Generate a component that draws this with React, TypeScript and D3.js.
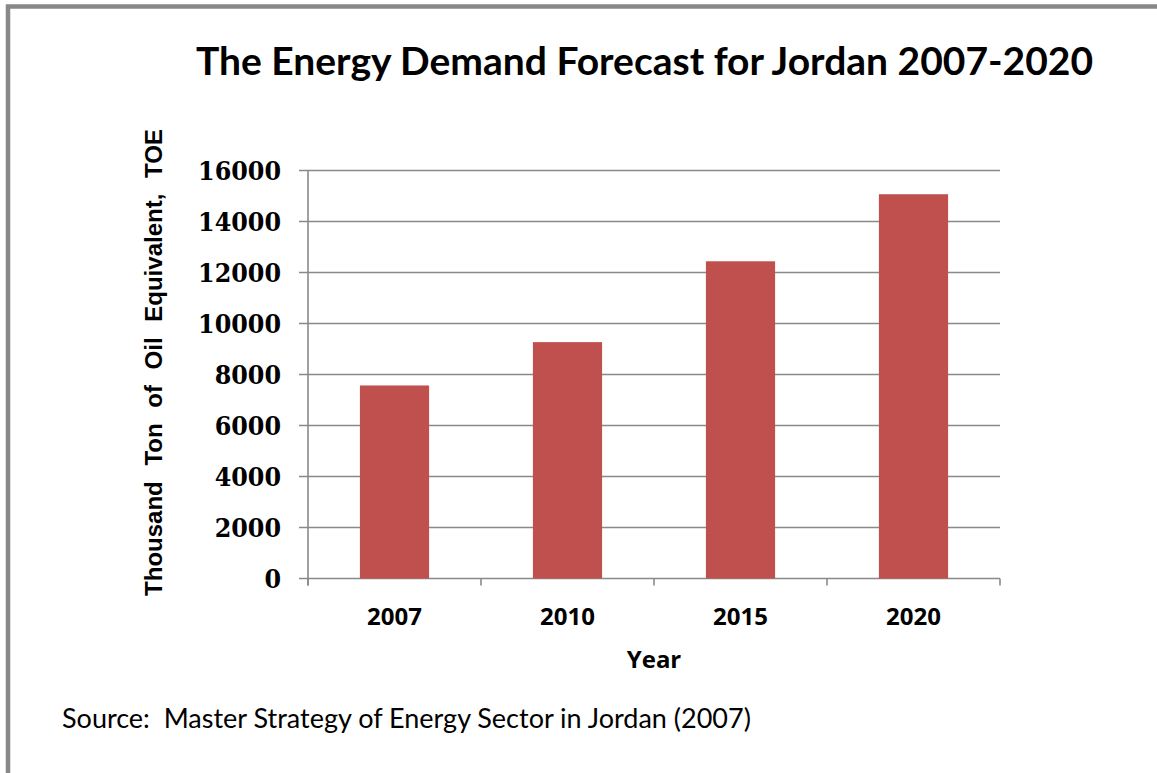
import React from "react";
import * as d3 from "d3";

// Energy demand forecast, thousand TOE
const years: string[] = ["2007", "2010", "2015", "2020"];
const demand: number[] = [7570, 9270, 12440, 15070];
const yTicks: number[] = [0, 2000, 4000, 6000, 8000, 10000, 12000, 14000, 16000];

const W = 1157;
const H = 773;
const plot = { left: 308, right: 1000, top: 170.5, bottom: 578.5 };

const GRID = "#898989";
const BAR = "#C0504D";

export default function App() {
  const x = d3
    .scaleBand<string>()
    .domain(years)
    .range([plot.left, plot.right])
    .paddingInner(0.6)
    .paddingOuter(0.3);
  const y = d3.scaleLinear().domain([0, 16000]).range([plot.bottom, plot.top]);

  // category boundaries (ticks on the category axis)
  const catEdges = d3
    .range(years.length + 1)
    .map((i) => plot.left + (i * (plot.right - plot.left)) / years.length);

  return (
    <svg
      width={W}
      height={H}
      style={{ position: "absolute", left: 0, top: 0, background: "#fff" }}
    >
      {/* outer frame */}
      <rect x={8} y={6.5} width={W + 20} height={H + 20} fill="#fff" stroke="#888" strokeWidth={4.5} />

      {/* title */}
      <text
        x={644.5}
        y={75}
        textAnchor="middle"
        fontFamily="Lato, 'Open Sans', sans-serif"
        fontWeight={700}
        fontSize={39}
        fill="#000"
      >
        The Energy Demand Forecast for Jordan 2007-2020
      </text>

      {/* horizontal gridlines + y ticks */}
      {yTicks.map((t) => (
        <g key={t}>
          <line x1={299} x2={plot.right} y1={y(t)} y2={y(t)} stroke={GRID} strokeWidth={1.6} />
          <text
            x={281}
            y={y(t) + 9.5}
            textAnchor="end"
            fontFamily="'DejaVu Serif Condensed', 'DejaVu Serif', serif"
            fontWeight={700}
            fontSize={26.5}
            fill="#000"
          >
            {t}
          </text>
        </g>
      ))}

      {/* bars */}
      {years.map((yr, i) => (
        <rect
          key={yr}
          x={x(yr)}
          y={y(demand[i])}
          width={x.bandwidth()}
          height={y(0) - y(demand[i])}
          fill={BAR}
        />
      ))}

      {/* value axis line */}
      <line x1={plot.left} x2={plot.left} y1={plot.top} y2={plot.bottom + 7} stroke={GRID} strokeWidth={1.6} />
      {/* category axis ticks */}
      {catEdges.map((cx, i) => (
        <line key={i} x1={cx} x2={cx} y1={plot.bottom} y2={plot.bottom + 7} stroke={GRID} strokeWidth={1.6} />
      ))}

      {/* category labels */}
      {years.map((yr) => (
        <text
          key={yr}
          x={(x(yr) as number) + x.bandwidth() / 2}
          y={625}
          textAnchor="middle"
          fontFamily="'Open Sans', Lato, sans-serif"
          fontWeight={700}
          fontSize={24}
          fill="#000"
        >
          {yr}
        </text>
      ))}

      {/* axis titles */}
      <text
        x={(plot.left + plot.right) / 2}
        y={668}
        textAnchor="middle"
        fontFamily="'Open Sans', Lato, sans-serif"
        fontWeight={700}
        fontSize={24}
        fill="#000"
      >
        Year
      </text>
      <text
        transform={`translate(162, ${(125 + 600) / 2}) rotate(-90)`}
        textAnchor="middle"
        fontFamily="'Liberation Sans', Arial, sans-serif"
        fontWeight={700}
        fontSize={24}
        wordSpacing={9}
        fill="#000"
      >
        Thousand Ton of Oil Equivalent, TOE
      </text>

      {/* source note */}
      <text
        x={62}
        y={728}
        fontFamily="Lato, 'Open Sans', sans-serif"
        fontSize={27}
        fill="#000"
        xmlSpace="preserve"
        style={{ whiteSpace: "pre" }}
      >
        {"Source:  Master Strategy of Energy Sector in Jordan (2007)"}
      </text>
    </svg>
  );
}
